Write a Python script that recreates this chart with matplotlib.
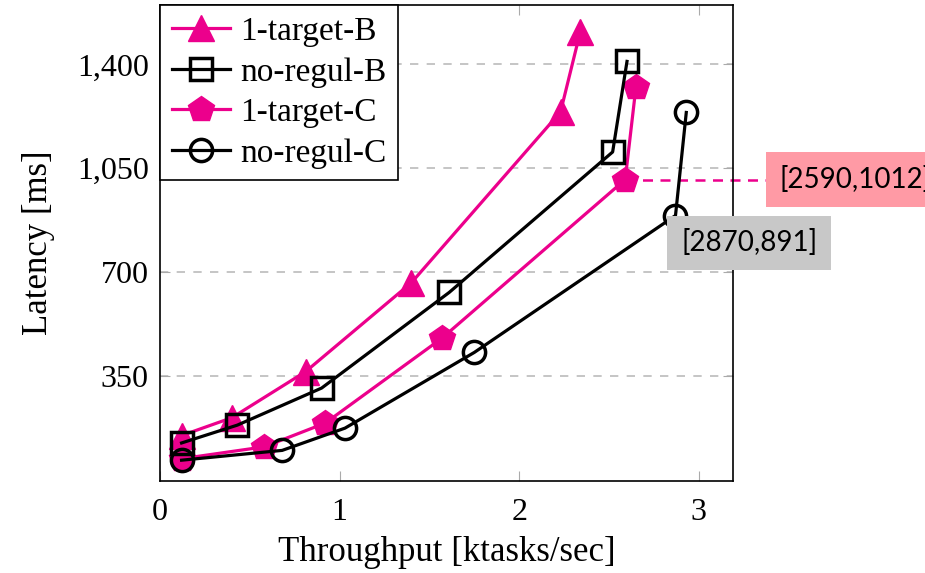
import numpy as np
import matplotlib
matplotlib.use("Agg")
from matplotlib import pyplot as plt

# throughput [ktasks/sec] and latency [ms]
tB_x = [0.12, 0.40, 0.81, 1.40, 2.23, 2.34]
tB_y = [150, 210, 365, 665, 1240, 1510]

nB_x = [0.12, 0.43, 0.90, 1.61, 2.52, 2.60]
nB_y = [125, 185, 310, 632, 1105, 1410]

tC_x = [0.12, 0.58, 0.92, 1.57, 2.59, 2.65]
tC_y = [72, 112, 192, 478, 1012, 1325]

nC_x = [0.12, 0.68, 1.03, 1.75, 2.87, 2.93]
nC_y = [67, 100, 175, 430, 891, 1238]

labels = ["1-target-B", "no-regul-B", "1-target-C", "no-regul-C"]
magenta = "#EC008C"

plt.rcParams['font.family'] = ['Liberation Serif', 'DejaVu Serif']

fig = plt.figure(figsize=(9.25, 5.73), dpi=100)
ax = fig.add_axes([0.173, 0.1606, 0.6194, 0.8307])

ax.plot(tB_x, tB_y, color=magenta, lw=2.3, marker='^', ms=19,
        mfc=magenta, mec=magenta, label=labels[0], zorder=3)
ax.plot(nB_x, nB_y, color='black', lw=2.3, marker='s', ms=16,
        mfc='none', mec='black', mew=2.5, label=labels[1], zorder=4)
ax.plot(tC_x, tC_y, color=magenta, lw=2.3, marker='p', ms=19,
        mfc=magenta, mec=magenta, label=labels[2], zorder=3)
ax.plot(nC_x, nC_y, color='black', lw=2.3, marker='o', ms=16,
        mfc='none', mec='black', mew=2.5, label=labels[3], zorder=4)

ax.set_xlim(0, 3.19)
ax.set_ylim(-3, 1600)
ax.set_xticks([0, 1, 2, 3])
ax.set_yticks([350, 700, 1050, 1400])
ax.set_yticklabels(["350", "700", "1,050", "1,400"])
ax.yaxis.grid(True, linestyle=(0, (5, 5)), color='#BBBBBB', lw=1.2)
ax.tick_params(direction='in', top=True, right=True, color='#AAAAAA',
               length=7, labelsize=23)
ax.tick_params(axis='x', pad=12)
ax.tick_params(axis='y', pad=8)
for s in ax.spines.values():
    s.set_linewidth(1.2)

ax.set_xlabel("Throughput [ktasks/sec]", fontsize=25, labelpad=7)
ax.set_ylabel("Latency [ms]", fontsize=25, labelpad=16)

leg = ax.legend(loc='upper left', borderaxespad=0, fontsize=24,
                fancybox=False, framealpha=1, edgecolor='black',
                handlelength=1.75, handletextpad=0.3, labelspacing=0.3,
                borderpad=0.35)
leg.get_frame().set_linewidth(1.2)

# callouts for two points
ax.plot([tC_x[4], 3.45], [tC_y[4], tC_y[4]], color=magenta, lw=1.8,
        ls=(0, (4, 3)), clip_on=False, zorder=2)
ax.annotate("[2590,1012]", xy=(3.45, tC_y[4]), xycoords='data',
            fontsize=20, family=['Lato', 'DejaVu Sans'], va='center', ha='left',
            annotation_clip=False,
            bbox=dict(boxstyle='square,pad=0.5', fc='#FF9AA5', ec='none'))
ax.annotate("[2870,891]", xy=(nC_x[4], nC_y[4]), xycoords='data',
            xytext=(4, -10), textcoords='offset points',
            fontsize=20, family=['Lato', 'DejaVu Sans'], va='top', ha='left',
            annotation_clip=False, zorder=5,
            bbox=dict(boxstyle='square,pad=0.5', fc='#C8C8C8', ec='none'))

fig.savefig("out.png", dpi=100)
